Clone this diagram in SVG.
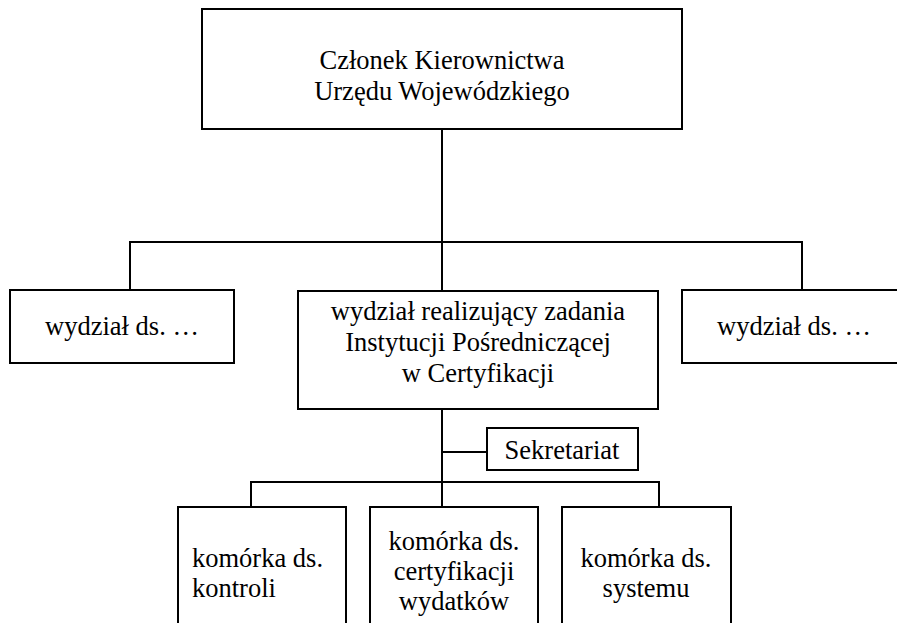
<svg xmlns="http://www.w3.org/2000/svg" width="897" height="623" viewBox="0 0 897 623">
  <style>
    .box { fill: #ffffff; stroke: #000000; stroke-width: 2; }
    .link { fill: none; stroke: #000000; stroke-width: 2; }
    text { font-family: "Liberation Serif", "Times New Roman", serif; font-size: 26.5px; fill: #000000; }
    .c { text-anchor: middle; }
  </style>
  <rect x="0" y="0" width="897" height="623" fill="#ffffff"/>

  <g id="connectors">
    <path class="link" d="M442 129 V291"/>
    <path class="link" d="M130 290 V242 H802 V290"/>
    <path class="link" d="M442 409 V507"/>
    <path class="link" d="M442 452 H487"/>
    <path class="link" d="M251 507 V482 H659 V507"/>
  </g>

  <g id="head">
    <rect class="box" x="202" y="9" width="480" height="120"/>
    <text class="c" x="442" y="69">Członek Kierownictwa</text>
    <text class="c" x="442" y="100">Urzędu Wojewódzkiego</text>
  </g>

  <g id="dept-left">
    <rect class="box" x="10" y="290" width="224" height="73"/>
    <text class="c" x="122" y="335">wydział ds. …</text>
  </g>

  <g id="dept-cert">
    <rect class="box" x="298" y="291" width="360" height="118"/>
    <text class="c" x="478" y="320">wydział realizujący zadania</text>
    <text class="c" x="478" y="351">Instytucji Pośredniczącej</text>
    <text class="c" x="478" y="382">w Certyfikacji</text>
  </g>

  <g id="dept-right">
    <rect class="box" x="682" y="290" width="230" height="73"/>
    <text class="c" x="794" y="335">wydział ds. …</text>
  </g>

  <g id="secretariat">
    <rect class="box" x="487" y="428" width="151" height="42"/>
    <text class="c" x="562" y="459">Sekretariat</text>
  </g>

  <g id="unit-control">
    <rect class="box" x="178" y="507" width="168" height="130"/>
    <text x="192" y="567">komórka ds.</text>
    <text x="192" y="597">kontroli</text>
  </g>

  <g id="unit-expenditure">
    <rect class="box" x="370" y="507" width="168" height="130"/>
    <text class="c" x="454" y="550">komórka ds.</text>
    <text class="c" x="454" y="580">certyfikacji</text>
    <text class="c" x="454" y="610">wydatków</text>
  </g>

  <g id="unit-system">
    <rect class="box" x="562" y="507" width="169" height="130"/>
    <text class="c" x="646" y="567">komórka ds.</text>
    <text class="c" x="646" y="597">systemu</text>
  </g>
</svg>
